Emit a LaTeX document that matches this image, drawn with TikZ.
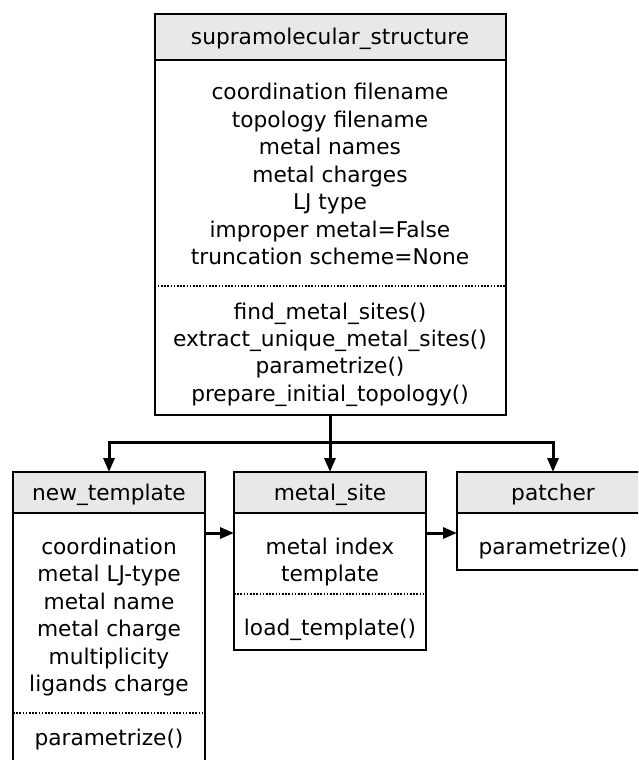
\documentclass[tikz,border=0pt]{standalone}
\usepackage{fontspec}
\setmainfont{DejaVu Sans}
\usetikzlibrary{arrows.meta}
\definecolor{hdrgray}{RGB}{232,232,232}
\newcommand{\fsz}{\fontsize{21.7pt}{27.5pt}\selectfont}
\begin{document}
\begin{tikzpicture}[x=1pt,y=-1pt,
  boxbody/.style={draw, line width=2pt, fill=white, inner sep=0pt, outer sep=0pt, anchor=north west},
  boxhead/.style={draw, line width=2pt, fill=hdrgray, inner sep=0pt, outer sep=0pt, anchor=north west},
  txt/.style={font=\fsz, anchor=base, inner sep=0pt},
  sepline/.style={line width=1.6pt, dash pattern=on 1.6pt off 1.6pt},
  conn/.style={line width=3pt, -{Triangle[length=14pt,width=11pt]}},
]
\path[use as bounding box, clip] (0,0) rectangle (638,760);
\fill[white] (0,0) rectangle (638,760);

% supramolecular_structure
\node[boxbody, minimum width=351pt, minimum height=401pt] (sBody) at (154.5,14) {};
\node[boxhead, minimum width=351pt, minimum height=46pt] (sHead) at (154.5,14) {};
\node[txt] (sTitle) at (330,44.5) {supramolecular\_structure};
\foreach \t [count=\i from 0] in {coordination filename, topology filename, metal names, metal charges, LJ type, improper metal=False, truncation scheme=None}
  \node[txt] (sa\i) at (330,{99.5+27.5*\i}) {\t};
\draw[sepline] (sBody.west |- 0,286) -- (sBody.east |- 0,286);
\foreach \t [count=\i from 0] in {find\_metal\_sites(), extract\_unique\_metal\_sites(), parametrize(), prepare\_initial\_topology()}
  \node[txt] (sm\i) at (330,{319.5+27.2*\i}) {\t};

% new_template
\node[boxbody, minimum width=192pt, minimum height=308pt] (ntBody) at (13,472) {};
\node[boxhead, minimum width=192pt, minimum height=41pt] (ntHead) at (13,472) {};
\node[txt] (ntTitle) at (109,500) {new\_template};
\foreach \t [count=\i from 0] in {coordination, metal LJ-type, metal name, metal charge, multiplicity, ligands charge}
  \node[txt] (nta\i) at (109,{554.5+27.4*\i}) {\t};
\draw[sepline] (ntBody.west |- 0,713) -- (ntBody.east |- 0,713);
\node[txt] (ntm0) at (109,745.5) {parametrize()};

% metal_site
\node[boxbody, minimum width=192pt, minimum height=178pt] (msBody) at (234,472) {};
\node[boxhead, minimum width=192pt, minimum height=41pt] (msHead) at (234,472) {};
\node[txt] (msTitle) at (330,500) {metal\_site};
\node[txt] (msa0) at (330,554.5) {metal index};
\node[txt] (msa1) at (330,581) {template};
\draw[sepline] (msBody.west |- 0,594) -- (msBody.east |- 0,594);
\node[txt] (msm0) at (330,635.5) {load\_template()};

% patcher
\node[boxbody, minimum width=192pt, minimum height=98pt] (pBody) at (457,472) {};
\node[boxhead, minimum width=192pt, minimum height=41pt] (pHead) at (457,472) {};
\node[txt] (pTitle) at (553,500) {patcher};
\node[txt] (pm0) at (553,554.5) {parametrize()};

% connectors
\coordinate (split) at (330,442);
\draw[conn] (sBody.south) -- (msHead.north);
\draw[conn] (split) -| (ntHead.north);
\draw[conn] (split) -| (pHead.north);
\draw[conn] (ntBody.east |- 0,533) -- (msBody.west |- 0,533);
\draw[conn] (msBody.east |- 0,533) -- (pBody.west |- 0,533);
\end{tikzpicture}
\end{document}
